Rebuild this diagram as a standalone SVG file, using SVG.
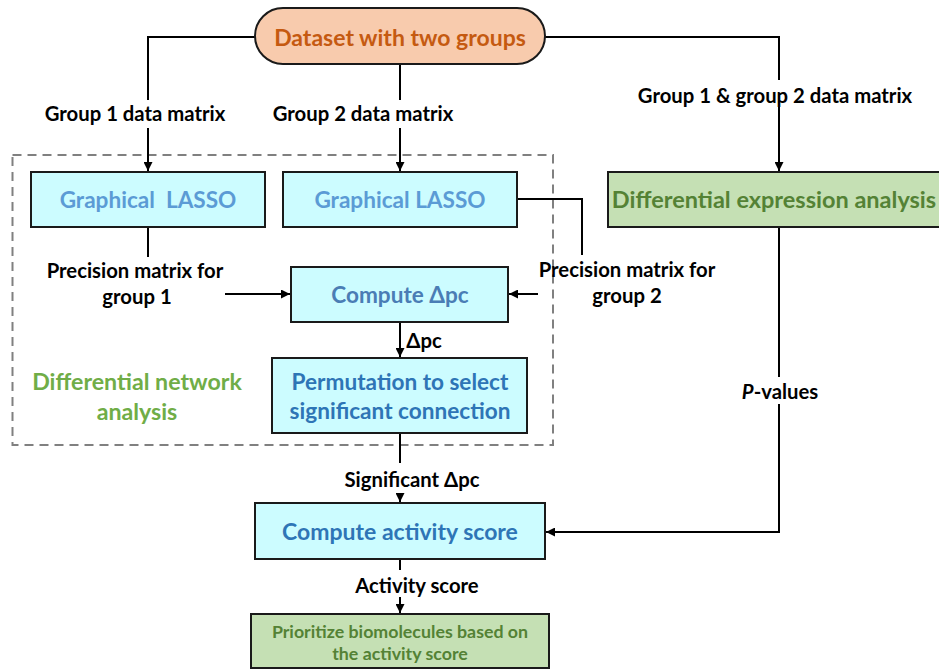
<svg xmlns="http://www.w3.org/2000/svg" width="939" height="670" viewBox="0 0 939 670">
<defs>
<style>
.box{stroke:#1a1a1a;stroke-width:2}
.cyan{fill:#CCFCFF}
.green{fill:#C5E0B4}
.ln{fill:none;stroke:#000;stroke-width:2}
.t{font-family:Lato,"Open Sans","Liberation Sans",sans-serif;font-weight:bold;text-anchor:middle;dominant-baseline:central}
.lbl{font-size:20.3px;fill:#000}
.bt{font-size:22.6px}
</style>
<marker id="ah" viewBox="0 0 10 10" refX="10" refY="5" markerWidth="9" markerHeight="9" markerUnits="userSpaceOnUse" orient="auto">
<path d="M0,0 L10,5 L0,10 z" fill="#000"/>
</marker>
</defs>
<rect width="939" height="670" fill="#fff"/>
<g id="group-dn">
<rect x="12.5" y="155" width="540.5" height="290" fill="none" stroke="#808080" stroke-width="2" stroke-dasharray="9 6"/>
<text class="t" x="137" y="381" font-size="23.2" fill="#70AD47">Differential network</text>
<text class="t" x="137" y="411" font-size="23.2" fill="#70AD47">analysis</text>
</g>
<g id="connectors">
<path class="ln" d="M255,37 H148 V100"/>
<path class="ln" d="M148,128 V171" marker-end="url(#ah)"/>
<path class="ln" d="M400,63 V100"/>
<path class="ln" d="M400,128 V171" marker-end="url(#ah)"/>
<path class="ln" d="M545,37 H779 V80"/>
<path class="ln" d="M779,107 V171" marker-end="url(#ah)"/>
<path class="ln" d="M148,227 V257"/>
<path class="ln" d="M225,294 H290" marker-end="url(#ah)"/>
<path class="ln" d="M517,199 H582 V255"/>
<path class="ln" d="M538,294 H509" marker-end="url(#ah)"/>
<path class="ln" d="M400,322 V357" marker-end="url(#ah)"/>
<path class="ln" d="M400,433 V463"/>
<path class="ln" d="M400,493 V502" marker-end="url(#ah)"/>
<path class="ln" d="M779,227 V377"/>
<path class="ln" d="M779,404 V532 H546" marker-end="url(#ah)"/>
<path class="ln" d="M400,559 V570"/>
<path class="ln" d="M400,597 V613" marker-end="url(#ah)"/>
<text class="t lbl" x="135" y="113">Group 1 data matrix</text>
<text class="t lbl" x="363" y="113">Group 2 data matrix</text>
<text class="t lbl" x="775" y="95">Group 1 &amp; group 2 data matrix</text>
<text class="t lbl" x="135" y="270">Precision matrix for</text>
<text class="t lbl" x="137" y="296">group 1</text>
<text class="t lbl" x="627" y="269">Precision matrix for</text>
<text class="t lbl" x="627" y="295">group 2</text>
<text class="t lbl" x="424" y="340">Δpc</text>
<text class="t lbl" x="412" y="479">Significant Δpc</text>
<text class="t lbl" x="417" y="585">Activity score</text>
<text class="t lbl" x="780" y="391"><tspan font-style="italic">P</tspan>-values</text>
</g>
<g id="dataset">
<rect class="box" x="255" y="8" width="290" height="56" rx="28" fill="#F8CBAD"/>
<text class="t" x="400" y="37" font-size="23" fill="#C55A11">Dataset with two groups</text>
</g>
<g id="glasso1">
<rect class="box cyan" x="31" y="172" width="234" height="55"/>
<text class="t bt" x="148" y="199" fill="#5B9BD5" xml:space="preserve">Graphical  LASSO</text>
</g>
<g id="glasso2">
<rect class="box cyan" x="283" y="172" width="234" height="55"/>
<text class="t bt" x="400" y="199" fill="#5B9BD5">Graphical LASSO</text>
</g>
<g id="dea">
<rect class="box green" x="608" y="172" width="340" height="55"/>
<text class="t" x="774" y="199" font-size="23.5" fill="#548235">Differential expression analysis</text>
</g>
<g id="computepc">
<rect class="box cyan" x="291" y="267" width="217" height="55"/>
<text class="t bt" x="400" y="294" fill="#4A7DB5">Compute Δpc</text>
</g>
<g id="permutation">
<rect class="box cyan" x="272" y="358" width="255" height="75"/>
<text class="t bt" x="400" y="381" fill="#2E75B6">Permutation to select</text>
<text class="t bt" x="400" y="410" fill="#2E75B6">significant connection</text>
</g>
<g id="activity">
<rect class="box cyan" x="255" y="503" width="290" height="56"/>
<text class="t" x="400" y="531" font-size="23" fill="#2E75B6">Compute activity score</text>
</g>
<g id="prioritize">
<rect class="box green" x="251" y="614" width="298" height="54"/>
<text class="t" x="400" y="631" font-size="17.8" fill="#548235">Prioritize biomolecules based on</text>
<text class="t" x="400" y="653" font-size="17.8" fill="#548235">the activity score</text>
</g>
</svg>
